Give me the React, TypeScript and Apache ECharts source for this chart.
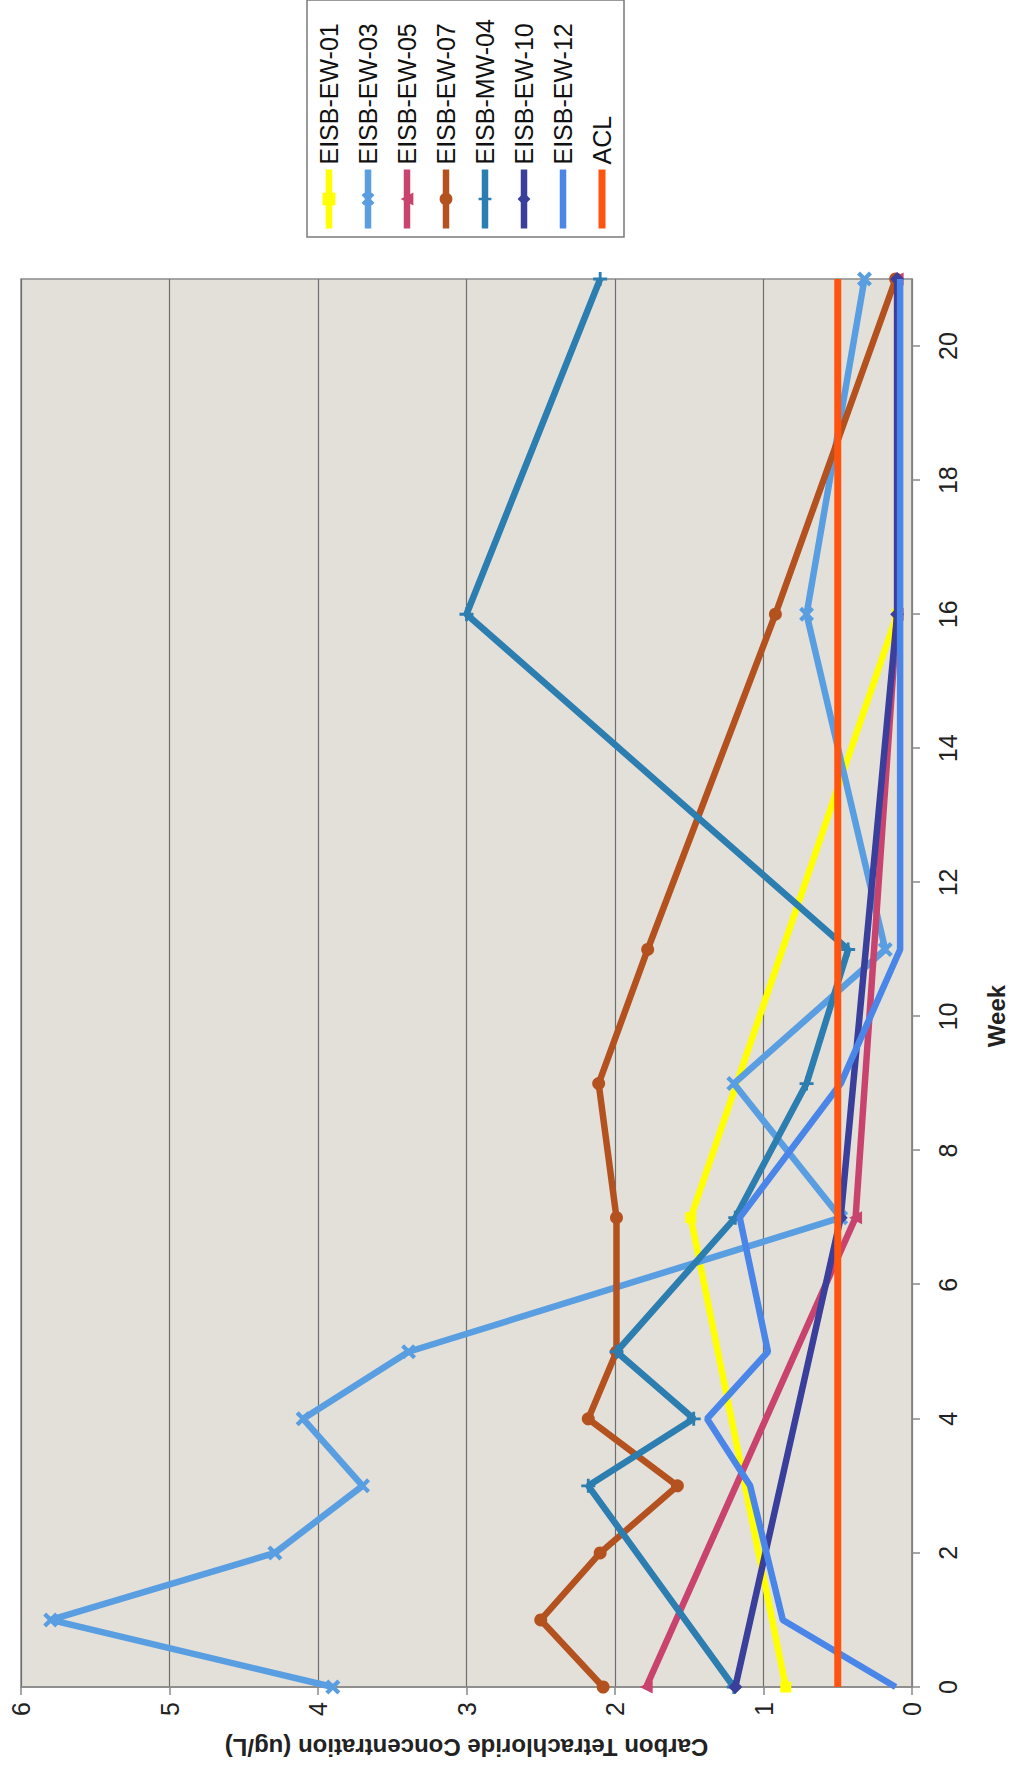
import React, { useEffect, useRef } from "react";
import * as echarts from "echarts";

// Sampling weeks shared by all wells
const weeks = [0, 1, 2, 3, 4, 5, 7, 9, 11, 16, 21];

const seriesNames = [
  "EISB-EW-01",
  "EISB-EW-03",
  "EISB-EW-05",
  "EISB-EW-07",
  "EISB-MW-04",
  "EISB-EW-10",
  "EISB-EW-12",
  "ACL",
];

// Carbon tetrachloride concentration (ug/L), aligned with `weeks` (null = not sampled)
const ew01 = [0.85, null, null, null, null, null, 1.49, null, null, 0.1, null];
const ew03 = [3.9, 5.8, 4.29, 3.7, 4.1, 3.39, 0.48, 1.2, 0.18, 0.71, 0.32];
const ew05 = [1.79, null, null, null, null, null, 0.38, null, null, 0.1, 0.1];
const ew07 = [2.08, 2.5, 2.1, 1.58, 2.18, 1.99, 1.99, 2.11, 1.78, 0.92, 0.11];
const mw04 = [1.2, null, null, 2.18, 1.47, 1.99, 1.19, 0.71, 0.43, 3.0, 2.1];
const ew10 = [1.19, null, null, null, null, null, 0.48, null, null, 0.1, 0.1];
const ew12 = [0.11, 0.87, null, 1.09, 1.38, 0.97, 1.16, 0.48, 0.08, 0.08, 0.08];
const acl = [0.5, null, null, null, null, null, null, null, null, null, 0.5];

const seriesValues = [ew01, ew03, ew05, ew07, mw04, ew10, ew12, acl];

const seriesColors = [
  "#FFFF00",
  "#5A9EE2",
  "#C8446E",
  "#B4521F",
  "#2C7DB0",
  "#3B3F9C",
  "#4A86E8",
  "#FF5410",
];

const X_MARK = "path://M2,0L5,3L8,0L10,2L7,5L10,8L8,10L5,7L2,10L0,8L3,5L0,2Z";
const PLUS_MARK = "path://M4,0H6V4H10V6H6V10H4V6H0V4H4Z";

const seriesSymbols = ["rect", X_MARK, "triangle", "circle", PLUS_MARK, "diamond", "none", "none"];
const seriesSymbolSizes = [11, 15, 13, 13, 14, 14, 0, 0];
const seriesLineWidths = [6.5, 6.5, 6.5, 6.5, 6.5, 6.5, 6.5, 7];

const weekAxis = { min: 0, max: 21, interval: 2 };
const concAxis = { min: 0, max: 6, interval: 1 };

const FONT = "'Liberation Sans', Arial, sans-serif";

function buildOption() {
  const series = seriesNames.map((name, i) => {
    const data = weeks
      .map((w, j) => (seriesValues[i][j] == null ? null : [w, seriesValues[i][j]]))
      .filter((d) => d !== null);
    return {
      name,
      type: "line",
      data,
      symbol: seriesSymbols[i],
      symbolSize: seriesSymbolSizes[i],
      showSymbol: seriesSymbols[i] !== "none",
      lineStyle: { color: seriesColors[i], width: seriesLineWidths[i] },
      itemStyle: { color: seriesColors[i] },
      emphasis: { disabled: true },
      z: 2 + i,
    };
  });

  const legendData = seriesNames.map((name, i) =>
    seriesSymbols[i] === "none"
      ? { name, itemStyle: { opacity: 0, color: "rgba(0,0,0,0)" }, lineStyle: { width: seriesLineWidths[i] } }
      : { name, lineStyle: { width: seriesLineWidths[i] } }
  );

  return {
    animation: false,
    backgroundColor: "#ffffff",
    grid: {
      left: 80,
      right: 279,
      top: 21,
      bottom: 103,
      show: true,
      backgroundColor: "#E3E0DA",
      borderColor: "#8a8a8a",
      borderWidth: 1.5,
    },
    xAxis: {
      type: "value",
      min: weekAxis.min,
      max: weekAxis.max,
      interval: weekAxis.interval,
      name: "Week",
      nameLocation: "middle",
      nameGap: 72,
      nameTextStyle: {
        fontFamily: FONT,
        fontSize: 24,
        fontWeight: "bold",
        color: "#222",
        padding: [0, 66, 0, 0],
      },
      axisLine: { show: true, onZero: false, lineStyle: { color: "#888", width: 1.5 } },
      axisTick: { show: true, length: 8, lineStyle: { color: "#888", width: 1.5 } },
      axisLabel: {
        fontFamily: FONT,
        fontSize: 25,
        color: "#222",
        margin: 23,
        showMaxLabel: false,
      },
      splitLine: { show: false },
    },
    yAxis: {
      type: "value",
      min: concAxis.min,
      max: concAxis.max,
      interval: concAxis.interval,
      name: "Carbon Tetrachloride Concentration (ug/L)",
      nameLocation: "middle",
      nameRotate: 90,
      nameGap: 48,
      nameTextStyle: {
        fontFamily: FONT,
        fontSize: 24,
        fontWeight: "bold",
        color: "#222",
      },
      axisLine: { show: true, lineStyle: { color: "#888", width: 1.5 } },
      axisTick: { show: true, length: 8, lineStyle: { color: "#888", width: 1.5 } },
      axisLabel: { fontFamily: FONT, fontSize: 25, color: "#222", margin: 15 },
      splitLine: { show: true, lineStyle: { color: "#6e6e6e", width: 1.2 } },
    },
    legend: {
      orient: "vertical",
      left: 1530,
      top: 307,
      padding: [7.5, 19, 7.5, 5],
      itemWidth: 59,
      itemHeight: 16,
      itemGap: 10,
      backgroundColor: "#ffffff",
      borderColor: "#7a7a7a",
      borderWidth: 1.5,
      lineStyle: { width: 6 },
      textStyle: { fontFamily: FONT, fontSize: 25, lineHeight: 29, color: "#111" },
      data: legendData,
    },
    series,
  };
}

export default function App() {
  const ref = useRef<HTMLDivElement>(null);
  useEffect(() => {
    if (!ref.current) return;
    const chart = echarts.init(ref.current, null, { renderer: "svg", width: 1767, height: 1015 });
    chart.setOption(buildOption() as any);
    return () => chart.dispose();
  }, []);
  return (
    <div
      style={{
        position: "absolute",
        left: 0,
        top: 0,
        width: 1015,
        height: 1767,
        overflow: "hidden",
        background: "#ffffff",
      }}
    >
      <div
        ref={ref}
        style={{
          position: "absolute",
          left: 0,
          top: 0,
          width: 1767,
          height: 1015,
          transformOrigin: "0 0",
          transform: "translate(0px, 1767px) rotate(-90deg)",
        }}
      />
    </div>
  );
}
